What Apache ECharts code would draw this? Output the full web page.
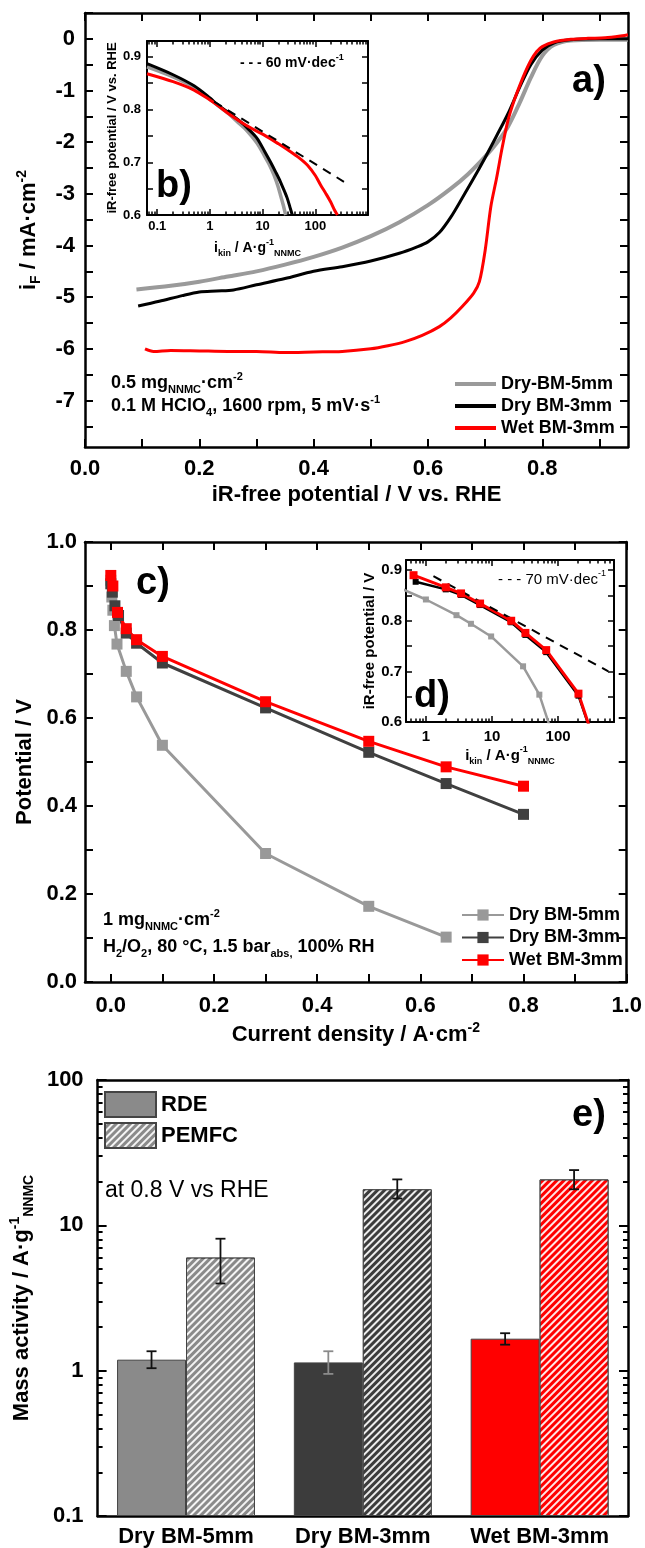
<!DOCTYPE html>
<html>
<head>
<meta charset="utf-8">
<script src="https://cdn.jsdelivr.net/npm/echarts@6/dist/echarts.min.js"></script>
<style>
  html, body { margin: 0; padding: 0; background: #fff; }
  #chart { width: 645px; height: 1548px; }
</style>
</head>
<body>
<div id="chart"></div>
<script>
const FONT = '"Liberation Sans", Arial, sans-serif';

// ---------- a) RDE polarisation curves: [potential V vs RHE, iF mA/cm2]
const aDry5 = [[0.09,-4.85],[0.15,-4.78],[0.20,-4.70],[0.25,-4.60],[0.30,-4.50],[0.35,-4.37],[0.40,-4.22],
  [0.45,-4.04],[0.50,-3.82],[0.55,-3.55],[0.60,-3.22],[0.64,-2.90],[0.67,-2.62],[0.70,-2.28],[0.72,-2.02],
  [0.74,-1.70],[0.76,-1.25],[0.78,-0.75],[0.80,-0.33],[0.82,-0.12],[0.85,-0.03],[0.90,-0.02],[0.95,-0.02]];
const aDry3 = [[0.093,-5.17],[0.13,-5.08],[0.17,-4.97],[0.20,-4.90],[0.23,-4.88],[0.26,-4.86],[0.30,-4.76],
  [0.35,-4.64],[0.40,-4.50],[0.45,-4.41],[0.50,-4.30],[0.55,-4.15],[0.58,-4.03],[0.60,-3.93],[0.62,-3.75],
  [0.64,-3.45],[0.66,-3.08],[0.68,-2.70],[0.70,-2.30],[0.72,-1.88],[0.74,-1.45],[0.76,-0.95],[0.78,-0.50],
  [0.80,-0.22],[0.82,-0.08],[0.85,-0.02],[0.90,0.0],[0.95,0.0]];
const aWet3 = [[0.105,-6.00],[0.12,-6.05],[0.15,-6.03],[0.20,-6.04],[0.25,-6.05],[0.30,-6.05],[0.35,-6.07],
  [0.40,-6.06],[0.45,-6.05],[0.50,-6.00],[0.53,-5.94],[0.56,-5.86],[0.59,-5.74],[0.62,-5.57],[0.64,-5.40],
  [0.66,-5.18],[0.68,-4.92],[0.69,-4.70],[0.70,-4.10],[0.71,-3.25],[0.72,-2.70],[0.73,-2.10],[0.74,-1.58],
  [0.75,-1.22],[0.76,-0.92],[0.77,-0.65],[0.78,-0.42],[0.79,-0.25],[0.80,-0.15],[0.82,-0.06],[0.85,-0.01],
  [0.88,0.01],[0.91,0.02],[0.94,0.06],[0.95,0.08]];
const aXTicks = [0,0.1,0.2,0.3,0.4,0.5,0.6,0.7,0.8,0.9];
const aXLabels = [0,0.2,0.4,0.6,0.8];
const aYTicks = [-7.5,-7,-6.5,-6,-5.5,-5,-4.5,-4,-3.5,-3,-2.5,-2,-1.5,-1,-0.5,0,0.5];
const aYLabels = [-7,-6,-5,-4,-3,-2,-1,0];

// ---------- b) RDE Tafel inset: [i_kin A/g, V]
const bDry5 = [[0.064,0.881],[0.2,0.862],[0.5,0.842],[1.0,0.82],[1.4,0.808],[2.2,0.793],[3.3,0.777],[4.5,0.765],
  [5.9,0.752],[8,0.735],[10.6,0.714],[13.5,0.695],[16.4,0.676],[19.5,0.655],[21.8,0.638],[24.5,0.62],[27.4,0.6]];
const bDry3 = [[0.064,0.887],[0.2,0.866],[0.5,0.845],[1.0,0.822],[1.4,0.809],[2.2,0.795],[3.8,0.777],[5.5,0.762],
  [7.9,0.745],[11,0.72],[14.2,0.70],[18,0.68],[21.8,0.663],[26,0.645],[29.3,0.632],[33,0.615],[36.6,0.6]];
const bWet3 = [[0.064,0.868],[0.2,0.853],[0.5,0.837],[1.0,0.818],[1.4,0.808],[2.2,0.793],[3.8,0.777],[6.5,0.763],
  [10.6,0.752],[20,0.735],[33.9,0.72],[50,0.708],[70.5,0.695],[100,0.675],[126,0.657],[160,0.64],[195,0.625],
  [230,0.61],[263,0.6]];
const bTafel = [[1.2,0.815],[350,0.663]];
const bXMajor = [0.1,1,10,100,1000];
const bXMinor = [0.07,0.08,0.09,0.2,0.3,0.4,0.5,0.6,0.7,0.8,0.9,2,3,4,5,6,7,8,9,20,30,40,50,60,70,80,90,200,300,400,500,600,700,800,900];
const bXLabels = [0.1,1,10,100];
const bYTicks = [0.6,0.65,0.7,0.75,0.8,0.85,0.9];
const bYLabels = [0.6,0.7,0.8,0.9];

// ---------- c) PEMFC polarisation: [A/cm2, V]
const cDry5 = [[0,0.913],[0.002,0.875],[0.004,0.845],[0.007,0.81],[0.012,0.768],[0.03,0.706],[0.05,0.648],
  [0.1,0.538],[0.3,0.292],[0.5,0.172],[0.65,0.102]];
const cDry3 = [[0,0.905],[0.003,0.886],[0.008,0.855],[0.015,0.833],[0.03,0.793],[0.05,0.77],[0.1,0.725],
  [0.3,0.623],[0.5,0.522],[0.65,0.451],[0.8,0.381]];
const cWet3 = [[0,0.924],[0.004,0.9],[0.013,0.84],[0.03,0.803],[0.05,0.778],[0.1,0.74],[0.3,0.637],
  [0.5,0.547],[0.65,0.489],[0.8,0.445]];
const cXTicks = [0,0.1,0.2,0.3,0.4,0.5,0.6,0.7,0.8,0.9,1.0];
const cXLabels = [0,0.2,0.4,0.6,0.8,1.0];
const cYTicks = [0,0.1,0.2,0.3,0.4,0.5,0.6,0.7,0.8,0.9,1.0];
const cYLabels = [0,0.2,0.4,0.6,0.8,1.0];

// ---------- d) PEMFC Tafel inset: [i_kin A/g, V]
const dDry5 = [[0.45,0.862],[1.0,0.842],[2.9,0.811],[4.8,0.794],[9.7,0.769],[29.5,0.71],[52,0.654],[95,0.55]];
const dDry3 = [[0.7,0.877],[2.0,0.862],[3.4,0.851],[6.6,0.831],[19.5,0.797],[32,0.772],[66,0.738],[203,0.652],[400,0.54]];
const dWet3 = [[0.65,0.89],[2.0,0.866],[3.4,0.854],[6.6,0.834],[19.5,0.8],[32,0.776],[66,0.742],[203,0.656],[400,0.54]];
const dTafel = [[1.3,0.888],[575,0.70]];
const dXMajor = [1,10,100];
const dXMinor = [0.5,0.6,0.7,0.8,0.9,2,3,4,5,6,7,8,9,20,30,40,50,60,70,80,90,200,300,400,500,600,700];
const dXLabels = [1,10,100];
const dYTicks = [0.6,0.65,0.7,0.75,0.8,0.85,0.9];
const dYLabels = [0.6,0.7,0.8,0.9];

// ---------- e) mass activity at 0.8 V (A/g)
const eCategories = ['Dry BM-5mm', 'Dry BM-3mm', 'Wet BM-3mm'];
const eRDE = [1.19, 1.14, 1.66];
const eRDEErr = [[1.04,1.36],[0.95,1.36],[1.51,1.81]];
const ePEMFC = [6.0, 17.7, 20.7];
const ePEMFCErr = [[3.98,8.09],[15.3,20.7],[17.7,24.0]];
const eYMajor = [0.1,1,10,100];
const eYMinor = [0.2,0.3,0.4,0.5,0.6,0.7,0.8,0.9,2,3,4,5,6,7,8,9,20,30,40,50,60,70,80,90];

const eColors = ['#8a8a8a', '#3c3c3c', '#ff0000'];
const eRDEErrColors = ['#111', '#8a8a8a', '#111'];
const ePEMFCErrColors = ['#111', '#111', '#111'];
const BAR_FRAC = 0.39;

function rich(fs, fw) {
  const base = { fontFamily: FONT, fontWeight: fw, color: '#000', fill: '#000' };
  return {
    n: Object.assign({ fontSize: fs, lineHeight: fs + 6 }, base),
    sub: Object.assign({ fontSize: Math.round(fs * 0.62), lineHeight: Math.round(fs * 0.6), verticalAlign: 'bottom' }, base),
    sup: Object.assign({ fontSize: Math.round(fs * 0.62), lineHeight: Math.round(fs * 0.6), verticalAlign: 'top' }, base)
  };
}

const xAxes = [], yAxes = [];
function addAxis(list, o) {
  const lbl = o.labels
    ? Object.assign({ show: true, margin: o.margin, color: '#000', fontFamily: FONT, fontWeight: 'bold', fontSize: o.fs },
        o.labels === true ? { interval: 0 } : { customValues: o.labels },
        o.fmt ? { formatter: o.fmt } : {})
    : { show: false };
  const ax = {
    type: o.type || 'value',
    gridIndex: o.grid,
    position: o.pos,
    axisLine: { show: !!o.line, onZero: false, lineStyle: { color: '#000', width: o.lw || 2.5 } },
    axisTick: o.ticks
      ? { show: true, inside: true, length: o.len, customValues: o.ticks, lineStyle: { color: '#000', width: o.tw || 2 } }
      : { show: false },
    axisLabel: lbl,
    splitLine: { show: false },
    silent: true
  };
  if (o.min !== undefined) ax.min = o.min;
  if (o.max !== undefined) ax.max = o.max;
  if (o.data) ax.data = o.data;
  if (o.startValue !== undefined) ax.startValue = o.startValue;
  if (o.name) {
    ax.name = o.name;
    ax.nameLocation = 'middle';
    ax.nameGap = o.nameGap;
    ax.nameTextStyle = { fontFamily: FONT, fontWeight: 'bold', fontSize: o.nameFs, color: '#000', rich: rich(o.nameFs, 'bold') };
  }
  list.push(ax);
  return list.length - 1;
}

// box of four sides: main side carries labels, opposite side mirrors ticks
function box(grid, dim, o) {
  const list = dim === 'x' ? xAxes : yAxes;
  const p = dim === 'x' ? ['bottom', 'top'] : ['left', 'right'];
  const common = { type: o.type, min: o.min, max: o.max, data: o.data, grid, lw: o.lw, tw: o.tw };
  const main = addAxis(list, Object.assign({}, o, { grid, pos: p[0], line: true }));
  addAxis(list, Object.assign({}, common, { pos: p[1], line: true, ticks: o.ticks, len: o.len }));
  if (o.minor) {
    addAxis(list, Object.assign({}, common, { pos: p[0], ticks: o.minor, len: o.minorLen }));
    addAxis(list, Object.assign({}, common, { pos: p[1], ticks: o.minor, len: o.minorLen }));
  }
  return main;
}

const fix1 = v => Number(v).toFixed(1);
const logLbl = v => String(+Number(v).toPrecision(2));

// a)
const ax_a = box(0, 'x', { min: 0, max: 0.95, ticks: aXTicks, len: 8, labels: aXLabels, fmt: fix1, fs: 22, margin: 11,
  name: 'iR-free potential / V vs. RHE', nameGap: 37, nameFs: 22 });
const ay_a = box(0, 'y', { min: -7.9, max: 0.5, ticks: aYTicks, len: 8, labels: aYLabels, fmt: v => String(v), fs: 22, margin: 10,
  name: '{n|i}{sub|F}{n| / mA·cm}{sup|-2}', nameGap: 42, nameFs: 22 });
// b)
const ax_b = box(1, 'x', { type: 'log', min: 0.064, max: 1000, ticks: bXMajor, len: 6, minor: bXMinor, minorLen: 3.5,
  labels: bXLabels, fmt: logLbl, fs: 13, margin: 5, lw: 2, tw: 1.5,
  name: '{n|i}{sub|kin}{n| / A·g}{sup|-1}{sub|NNMC}', nameGap: 23, nameFs: 14 });
const ay_b = box(1, 'y', { min: 0.6, max: 0.93, ticks: bYTicks, len: 6, labels: bYLabels, fmt: fix1, fs: 13, margin: 6, lw: 2, tw: 1.5,
  name: 'iR-free potential / V vs. RHE', nameGap: 19, nameFs: 13 });
// c)
const ax_c = box(2, 'x', { min: -0.05, max: 1.0, ticks: cXTicks, len: 8, labels: cXLabels, fmt: fix1, fs: 22, margin: 13,
  name: '{n|Current density / A·cm}{sup|-2}', nameGap: 39, nameFs: 22 });
const ay_c = box(2, 'y', { min: 0, max: 1.0, ticks: cYTicks, len: 8, labels: cYLabels, fmt: fix1, fs: 22, margin: 8,
  name: 'Potential / V', nameGap: 47, nameFs: 22 });
// d)
const ax_d = box(3, 'x', { type: 'log', min: 0.5, max: 700, ticks: dXMajor, len: 6, minor: dXMinor, minorLen: 3.5,
  labels: dXLabels, fmt: logLbl, fs: 15, margin: 7, lw: 2, tw: 1.5,
  name: '{n|i}{sub|kin}{n| / A·g}{sup|-1}{sub|NNMC}', nameGap: 22, nameFs: 15 });
const ay_d = box(3, 'y', { min: 0.6, max: 0.92, ticks: dYTicks, len: 6, labels: dYLabels, fmt: fix1, fs: 15, margin: 4, lw: 2, tw: 1.5,
  name: 'iR-free potential / V', nameGap: 27, nameFs: 15 });
// e)
const ax_e = box(4, 'x', { type: 'category', data: eCategories, labels: true, fs: 22, margin: 10 });
const ay_e = box(4, 'y', { type: 'log', min: 0.1, max: 100, startValue: 0.1, ticks: eYMajor, len: 9, minor: eYMinor, minorLen: 5,
  labels: eYMajor, fmt: logLbl, fs: 22, margin: 14,
  name: '{n|Mass activity / A·g}{sup|-1}{sub|NNMC}', nameGap: 45, nameFs: 22 });

const names = {
  a1: 'Dry-BM-5mm', a2: 'Dry BM-3mm', a3: 'Wet BM-3mm',
  c1: 'Dry BM-5mm', c2: 'Dry BM-3mm', c3: 'Wet BM-3mm'
};

function line(name, xi, yi, data, color, width, extra) {
  return Object.assign({
    name, type: 'line', xAxisIndex: xi, yAxisIndex: yi, data,
    symbol: 'none', smooth: 0.3, lineStyle: { color, width }, itemStyle: { color }, z: 3
  }, extra || {});
}
function sq(size) { return { symbol: 'rect', symbolSize: size, showSymbol: true, smooth: false }; }

function errItem(side, colors) {
  return function (params, api) {
    const i = api.value(0);
    const bw = api.size([1, 1])[0] * BAR_FRAC;
    const top = api.coord([i, api.value(2)]);
    const bot = api.coord([i, api.value(1)]);
    const x = top[0] + side * bw / 2;
    const cap = 5;
    const st = { stroke: colors[params.dataIndex], lineWidth: 1.8 };
    return { type: 'group', children: [
      { type: 'line', shape: { x1: x, y1: top[1], x2: x, y2: bot[1] }, style: st },
      { type: 'line', shape: { x1: x - cap, y1: top[1], x2: x + cap, y2: top[1] }, style: st },
      { type: 'line', shape: { x1: x - cap, y1: bot[1], x2: x + cap, y2: bot[1] }, style: st }
    ] };
  };
}

const hatch = { symbol: 'rect', symbolSize: 1, color: 'rgba(255,255,255,0.9)', dashArrayX: [1, 0], dashArrayY: [2, 3], rotation: -Math.PI / 4 };

const series = [
  line('a1', ax_a, ay_a, aDry5, '#9a9a9a', 4),
  line('a2', ax_a, ay_a, aDry3, '#000', 3),
  line('a3', ax_a, ay_a, aWet3, '#ff0000', 3),
  line('b1', ax_b, ay_b, bDry5, '#9a9a9a', 3.5),
  line('b2', ax_b, ay_b, bDry3, '#000', 3),
  line('b3', ax_b, ay_b, bWet3, '#ff0000', 3),
  line('bt', ax_b, ay_b, bTafel, '#000', 2, { smooth: false, lineStyle: { color: '#000', width: 2, type: [9, 7] } }),
  line('c1', ax_c, ay_c, cDry5, '#999999', 3, sq(11)),
  line('c2', ax_c, ay_c, cDry3, '#404040', 3, sq(11)),
  line('c3', ax_c, ay_c, cWet3, '#ff0000', 3, sq(11)),
  line('d1', ax_d, ay_d, dDry5, '#9a9a9a', 2.5, sq(6)),
  line('d2', ax_d, ay_d, dDry3, '#000', 2.5, sq(6)),
  line('d3', ax_d, ay_d, dWet3, '#ff0000', 3, sq(8)),
  line('dt', ax_d, ay_d, dTafel, '#000', 2, { smooth: false, lineStyle: { color: '#000', width: 2, type: [9, 7] } }),
  {
    name: 'RDE', type: 'bar', xAxisIndex: ax_e, yAxisIndex: ay_e, barWidth: (BAR_FRAC * 100) + '%', barGap: '0%',
    itemStyle: { color: eColors[0], borderColor: '#444', borderWidth: 1 },
    data: eRDE.map((v, i) => ({ value: v, itemStyle: { color: eColors[i] } }))
  },
  {
    name: 'PEMFC', type: 'bar', xAxisIndex: ax_e, yAxisIndex: ay_e, barWidth: (BAR_FRAC * 100) + '%', barGap: '0%',
    itemStyle: { color: eColors[0], borderColor: '#444', borderWidth: 1, decal: hatch },
    data: ePEMFC.map((v, i) => ({ value: v, itemStyle: { color: eColors[i], decal: hatch } }))
  },
  {
    name: 'errRDE', type: 'custom', xAxisIndex: ax_e, yAxisIndex: ay_e, z: 10,
    renderItem: errItem(-1, eRDEErrColors), encode: { x: 0, y: [1, 2] },
    data: eRDEErr.map((e, i) => [i, e[0], e[1]])
  },
  {
    name: 'errPEMFC', type: 'custom', xAxisIndex: ax_e, yAxisIndex: ay_e, z: 10,
    renderItem: errItem(1, ePEMFCErrColors), encode: { x: 0, y: [1, 2] },
    data: ePEMFCErr.map((e, i) => [i, e[0], e[1]])
  }
];

function txt(x, y, text, fs, fw) {
  return { type: 'text', x, y, z: 20, style: { text, rich: rich(fs, fw), fill: '#000', font: fw + ' ' + fs + 'px ' + FONT, align: 'left', verticalAlign: 'middle' } };
}

const legendText = { fontFamily: FONT, fontWeight: 'bold', fontSize: 18, color: '#000', lineHeight: 18 };

const option = {
  animation: false,
  backgroundColor: '#fff',
  grid: [
    { left: 85, top: 13, width: 543, height: 434 },
    { left: 147, top: 41, width: 221, height: 174 },
    { left: 85, top: 542, width: 543, height: 440 },
    { left: 406, top: 560, width: 208, height: 162 },
    { left: 85, top: 1080, width: 543, height: 441 }
  ],
  xAxis: xAxes,
  yAxis: yAxes,
  legend: [
    { data: ['a1', 'a2', 'a3'], formatter: n => names[n], icon: 'rect', orient: 'vertical', left: 455, top: 375, padding: 0,
      itemWidth: 41, itemHeight: 4, itemGap: 4, selectedMode: false, textStyle: legendText },
    { data: ['c1', 'c2', 'c3'], formatter: n => names[n], orient: 'vertical', left: 461, top: 906, padding: 0,
      itemWidth: 42, itemHeight: 14, itemGap: 4.5, selectedMode: false, textStyle: legendText },
    { data: ['RDE', 'PEMFC'], icon: 'rect', orient: 'vertical', left: 104, top: 1091, padding: 0, itemWidth: 51, itemHeight: 25,
      itemGap: 4, selectedMode: false, textStyle: { fontFamily: FONT, fontWeight: 'bold', fontSize: 22, color: '#000' } }
  ],
  graphic: [
    txt(111, 383, '{n|0.5 mg}{sub|NNMC}{n|·cm}{sup|-2}', 18, 'bold'),
    txt(111, 406, '{n|0.1 M HClO}{sub|4}{n|, 1600 rpm, 5 mV·s}{sup|-1}', 18, 'bold'),
    txt(572, 82, '{n|a)}', 38, 'bold'),
    txt(240, 63, '{n|- - - 60 mV·dec}{sup|-1}', 14, 'bold'),
    txt(156, 187, '{n|b)}', 38, 'bold'),
    txt(136, 584, '{n|c)}', 38, 'bold'),
    txt(103, 920, '{n|1 mg}{sub|NNMC}{n|·cm}{sup|-2}', 18, 'bold'),
    txt(103, 947, '{n|H}{sub|2}{n|/O}{sub|2}{n|, 80 °C, 1.5 bar}{sub|abs,}{n| 100% RH}', 18, 'bold'),
    txt(498, 580, '{n|- - - 70 mV·dec}{sup|-1}', 15, 'normal'),
    txt(414, 697, '{n|d)}', 38, 'bold'),
    txt(572, 1116, '{n|e)}', 38, 'bold'),
    txt(105, 1191, '{n|at 0.8 V vs RHE}', 23, 'normal')
  ],
  series
};

const chart = echarts.init(document.getElementById('chart'), null, { renderer: 'canvas' });
chart.setOption(option);
</script>
</body>
</html>
